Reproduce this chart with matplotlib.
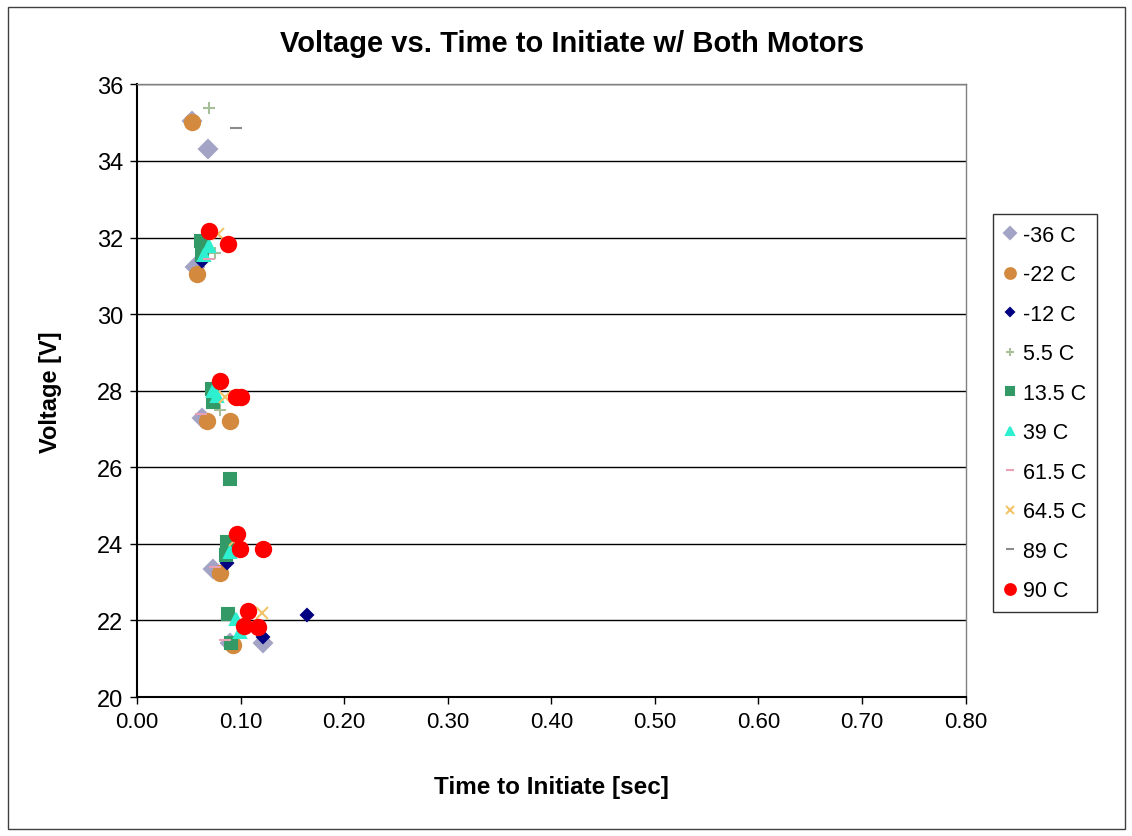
import matplotlib
matplotlib.use("Agg")
import matplotlib.pyplot as plt
import matplotlib.ticker as ticker
from matplotlib.patches import Rectangle

plt.rcParams["font.family"] = ["Liberation Sans", "DejaVu Sans"]

# time to initiate [sec] and voltage [V] per temperature series
t_m36 = [0.053, 0.069, 0.056, 0.063, 0.073, 0.090, 0.122]
v_m36 = [35.05, 34.30, 31.22, 27.30, 23.34, 21.40, 21.40]

t_m22 = [0.053, 0.058, 0.068, 0.090, 0.080, 0.093]
v_m22 = [35.02, 31.05, 27.20, 27.22, 23.25, 21.35]

t_m12 = [0.063, 0.087, 0.122, 0.164]
v_m12 = [31.40, 23.50, 21.58, 22.14]

t_5p5 = [0.070, 0.075, 0.080, 0.095]
v_5p5 = [35.37, 31.60, 27.50, 22.00]

t_13p5 = [0.062, 0.063, 0.072, 0.073, 0.090, 0.087, 0.086, 0.088, 0.091]
v_13p5 = [31.90, 31.55, 28.05, 27.70, 25.70, 24.05, 23.70, 22.17, 21.40]

t_39 = [0.070, 0.065, 0.077, 0.073, 0.090, 0.096, 0.099]
v_39 = [31.77, 31.55, 27.86, 28.00, 23.80, 22.04, 21.70]

t_61p5 = [0.070, 0.062, 0.075, 0.085]
v_61p5 = [31.43, 27.40, 23.40, 21.50]

t_64p5 = [0.078, 0.085, 0.095, 0.121]
v_64p5 = [32.10, 27.83, 24.10, 22.20]

t_89 = [0.096]
v_89 = [34.85]

t_90 = [0.070, 0.088, 0.080, 0.096, 0.100, 0.097, 0.099, 0.122, 0.107, 0.103, 0.117]
v_90 = [32.16, 31.82, 28.25, 27.83, 27.83, 24.25, 23.86, 23.86, 22.24, 21.85, 21.83]

series = [
    ("-36 C",   t_m36,  v_m36,  "#A3A3C6", "D", 9),
    ("-22 C",   t_m22,  v_m22,  "#D38A3E", "o", 11),
    ("-12 C",   t_m12,  v_m12,  "#000080", "D", 6),
    ("5.5 C",   t_5p5,  v_5p5,  "#A8C09A", "+", 8),
    ("13.5 C",  t_13p5, v_13p5, "#339966", "s", 8),
    ("39 C",    t_39,   v_39,   "#2EF0D0", "^", 9),
    ("61.5 C",  t_61p5, v_61p5, "#E8A0B4", "_", 8),
    ("64.5 C",  t_64p5, v_64p5, "#F2C46A", "x", 8),
    ("89 C",    t_89,   v_89,   "#8C8C8C", "_", 9),
    ("90 C",    t_90,   v_90,   "#FF0000", "o", 11),
]

fig = plt.figure(figsize=(11.32, 8.37), dpi=100)
ax = fig.add_axes([0.121, 0.166, 0.732, 0.732])

for label, t, v, color, marker, ms in series:
    ax.plot(t, v, linestyle="none", marker=marker, markersize=ms,
            color=color, markeredgecolor=color, markeredgewidth=1.5, label=label)

ax.set_xlim(0, 0.8)
ax.set_ylim(20, 36)
ax.xaxis.set_major_locator(ticker.MultipleLocator(0.1))
ax.xaxis.set_major_formatter(ticker.FormatStrFormatter("%.2f"))
ax.yaxis.set_major_locator(ticker.MultipleLocator(2))
ax.grid(axis="y", color="black", linewidth=1)
ax.set_axisbelow(True)
for s in ["top", "right"]:
    ax.spines[s].set_color("#808080")
    ax.spines[s].set_linewidth(1)
for s in ["left", "bottom"]:
    ax.spines[s].set_color("black")
    ax.spines[s].set_linewidth(1.5)
ax.tick_params(direction="out", length=5, width=1)
ax.tick_params(axis="x", labelsize=16, pad=5)
ax.tick_params(axis="y", labelsize=17, pad=5)

ax.set_title("Voltage vs. Time to Initiate w/ Both Motors", fontsize=21,
             fontweight="bold", pad=24, x=0.525)
ax.set_xlabel("Time to Initiate [sec]", fontsize=17.5, fontweight="bold", labelpad=31)
ax.set_ylabel("Voltage [V]", fontsize=17, fontweight="bold", labelpad=25)

leg = fig.legend(loc="upper left", bbox_to_anchor=(993 / 1132, 1 - 215 / 837),
                 borderaxespad=0, fontsize=15.5, frameon=True, fancybox=False,
                 edgecolor="black", handlelength=0.6, handletextpad=0.3,
                 labelspacing=0.86, borderpad=0.5, markerscale=0.7)
leg.get_frame().set_linewidth(1)

fig.patches.append(Rectangle((0.007, 0.008), 0.987, 0.982, transform=fig.transFigure,
                             fill=False, edgecolor="#404040", linewidth=1))

fig.savefig("out.png", dpi=100, facecolor="white")
